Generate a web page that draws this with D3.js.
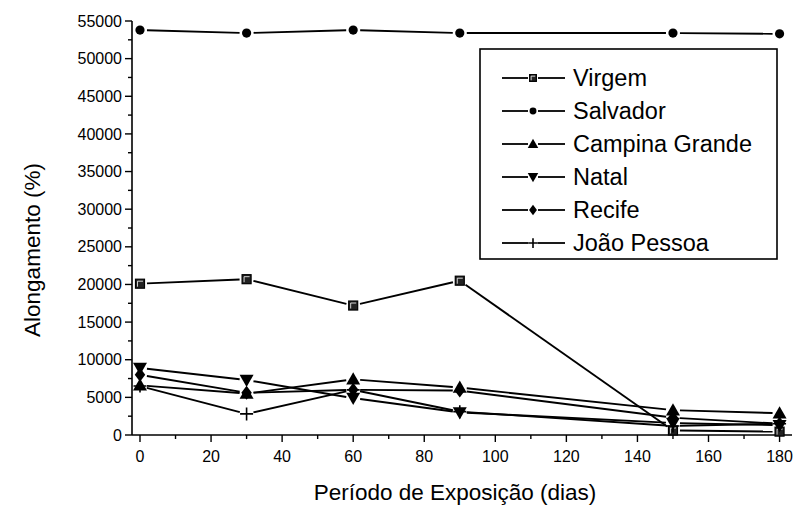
<!DOCTYPE html>
<html><head><meta charset="utf-8">
<script src="https://cdn.jsdelivr.net/npm/d3@7"></script>
<style>body{margin:0;background:#fff;} text{font-family:"Liberation Sans",Arial,sans-serif;}</style>
</head><body>
<svg id="c" width="796" height="507"></svg>
<script>
const days = [0, 30, 60, 90, 150, 180];
const seriesNames = ["Virgem", "Salvador", "Campina Grande", "Natal", "Recife", "João Pessoa"];
const virgem = [20100, 20700, 17200, 20500, 600, 450];
const salvador = [53800, 53400, 53800, 53400, 53400, 53300];
const campinaGrande = [6600, 5500, 7400, 6300, 3300, 2900];
const natal = [8900, 7300, 4900, 3000, 1600, 1300];
const recife = [8000, 5600, 6000, 5900, 2300, 1500];
const joaoPessoa = [6500, 2800, 6000, 3100, 1200, 1500];
const markers = ["square", "circle", "up", "down", "diamond", "plus"];
const xTicks = [0, 20, 40, 60, 80, 100, 120, 140, 160, 180];
const yTicks = [0, 5000, 10000, 15000, 20000, 25000, 30000, 35000, 40000, 45000, 50000, 55000];
const xLabel = "Período de Exposição (dias)";
const yLabel = "Alongamento (%)";

const allSeries = [virgem, salvador, campinaGrande, natal, recife, joaoPessoa];
const svg = d3.select("#c");
const x = d3.scaleLinear().domain([-2.25, 183.5]).range([132, 792]);
const y = d3.scaleLinear().domain([0, 55000]).range([435, 21]);

// axes
const gx = svg.append("g").attr("transform", "translate(0,435)");
gx.append("line").attr("x1", 132).attr("x2", 792).attr("stroke", "#000").attr("stroke-width", 1.6);
d3.range(0, 181, 10).forEach(v => {
  gx.append("line").attr("x1", x(v)).attr("x2", x(v)).attr("y1", 0).attr("y2", v % 20 === 0 ? 7 : 4)
    .attr("stroke", "#000").attr("stroke-width", 1.4);
});
xTicks.forEach(v => {
  gx.append("text").attr("x", x(v)).attr("y", 27).attr("text-anchor", "middle").attr("font-size", 16).text(v);
});
const gy = svg.append("g").attr("transform", "translate(132,0)");
gy.append("line").attr("y1", y(0)).attr("y2", y(55000)).attr("stroke", "#000").attr("stroke-width", 1.6);
d3.range(0, 55001, 2500).forEach(v => {
  gy.append("line").attr("y1", y(v)).attr("y2", y(v)).attr("x1", 0).attr("x2", v % 5000 === 0 ? -7 : -4)
    .attr("stroke", "#000").attr("stroke-width", 1.4);
});
yTicks.forEach(v => {
  gy.append("text").attr("x", -10).attr("y", y(v)).attr("dy", "0.35em").attr("text-anchor", "end").attr("font-size", 16).text(v);
});
svg.append("text").attr("x", 455).attr("y", 500).attr("text-anchor", "middle").attr("font-size", 22.5).text(xLabel);
svg.append("text").attr("transform", "translate(40,250) rotate(-90)").attr("text-anchor", "middle").attr("font-size", 22.5).text(yLabel);

function drawMarker(g, type, cx, cy, s) {
  s = s || 1;
  if (type === "square") {
    g.append("rect").attr("x", cx - 4.5 * s).attr("y", cy - 4.5 * s).attr("width", 9 * s).attr("height", 9 * s)
      .attr("fill", "#222").attr("stroke", "#000").attr("stroke-width", 1.2);
    g.append("path").attr("d", `M${cx - 2.5 * s},${cy + 3 * s}V${cy - 2.5 * s}H${cx + 3 * s}`).attr("fill", "none").attr("stroke", "#fff").attr("stroke-width", 0.8);
  } else if (type === "circle") {
    g.append("circle").attr("cx", cx).attr("cy", cy).attr("r", 4.6 * s).attr("fill", "#000");
  } else if (type === "up") {
    const r = 7 * s;
    g.append("path").attr("d", `M${cx},${cy - r}L${cx + r},${cy + r * 0.75}L${cx - r},${cy + r * 0.75}Z`).attr("fill", "#000");
  } else if (type === "down") {
    const r = 7 * s;
    g.append("path").attr("d", `M${cx},${cy + r}L${cx + r},${cy - r * 0.75}L${cx - r},${cy - r * 0.75}Z`).attr("fill", "#000");
  } else if (type === "diamond") {
    const r = 7 * s;
    g.append("path").attr("d", `M${cx},${cy - r}L${cx + r * 0.75},${cy}L${cx},${cy + r}L${cx - r * 0.75},${cy}Z`).attr("fill", "#000");
  } else if (type === "plus") {
    const r = 6.5 * s;
    g.append("path").attr("d", `M${cx - r},${cy}H${cx + r}M${cx},${cy - r}V${cy + r}`).attr("stroke", "#000").attr("stroke-width", 1.6).attr("fill", "none");
  }
}

const gap = 7;
allSeries.forEach((vals, si) => {
  const g = svg.append("g");
  const pts = vals.map((v, i) => [x(days[i]), y(v)]);
  for (let i = 0; i < pts.length - 1; i++) {
    const [x1, y1] = pts[i], [x2, y2] = pts[i + 1];
    const dx = x2 - x1, dy = y2 - y1, L = Math.hypot(dx, dy);
    if (L <= 2 * gap) continue;
    const ux = dx / L, uy = dy / L;
    g.append("line").attr("x1", x1 + ux * gap).attr("y1", y1 + uy * gap)
      .attr("x2", x2 - ux * gap).attr("y2", y2 - uy * gap)
      .attr("stroke", "#000").attr("stroke-width", 1.9);
  }
  pts.forEach(p => drawMarker(g, markers[si], p[0], p[1]));
});

// legend
const lg = svg.append("g");
lg.append("rect").attr("x", 480).attr("y", 49).attr("width", 297).attr("height", 210)
  .attr("fill", "#fff").attr("stroke", "#000").attr("stroke-width", 1.6);
seriesNames.forEach((name, i) => {
  const ly = 78 + i * 33;
  lg.append("line").attr("x1", 502).attr("x2", 528).attr("y1", ly).attr("y2", ly).attr("stroke", "#000").attr("stroke-width", 1.8);
  lg.append("line").attr("x1", 538).attr("x2", 565).attr("y1", ly).attr("y2", ly).attr("stroke", "#000").attr("stroke-width", 1.8);
  drawMarker(lg, markers[i], 533, ly, 0.75);
  lg.append("text").attr("x", 573).attr("y", ly).attr("dy", "0.35em").attr("font-size", 23.5).text(name);
});
</script>
</body></html>
